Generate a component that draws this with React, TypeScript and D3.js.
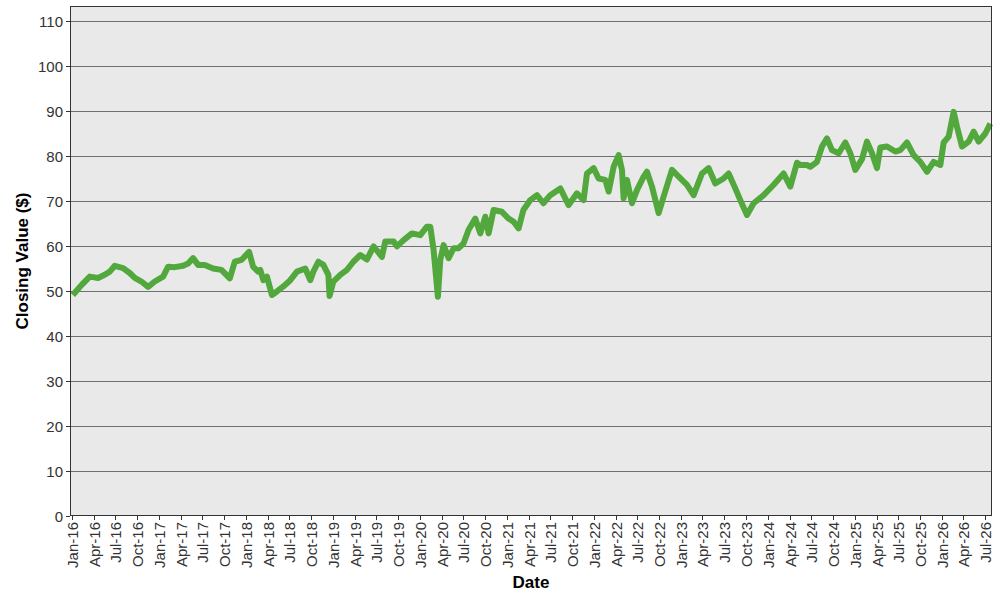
import React from "react";
import * as d3 from "d3";

const dates: string[] = [
  "2016-01-04","2016-02-09","2016-03-15","2016-04-19","2016-05-17","2016-06-07","2016-06-28","2016-08-02","2016-08-30","2016-09-20",
  "2016-10-18","2016-11-15","2016-12-13","2017-01-17","2017-02-07","2017-03-07","2017-04-11","2017-05-02","2017-05-23","2017-06-13",
  "2017-07-11","2017-08-15","2017-09-19","2017-10-24","2017-11-14","2017-12-12","2018-01-13","2018-01-30","2018-02-20","2018-03-01",
  "2018-03-14","2018-03-29","2018-04-19","2018-05-10","2018-06-06","2018-07-05","2018-08-02","2018-09-06","2018-09-27","2018-10-10",
  "2018-10-31","2018-11-21","2018-12-12","2018-12-17","2019-01-02","2019-01-31","2019-02-28","2019-03-27","2019-04-25","2019-05-23",
  "2019-06-20","2019-07-25","2019-08-08","2019-09-12","2019-09-26","2019-10-24","2019-11-28","2020-01-02","2020-01-30","2020-02-13",
  "2020-02-27","2020-03-16","2020-03-26","2020-04-09","2020-04-30","2020-05-21","2020-06-11","2020-07-02","2020-07-23","2020-08-20",
  "2020-09-10","2020-10-01","2020-10-15","2020-11-05","2020-12-10","2021-01-07","2021-01-28","2021-02-18","2021-03-10","2021-04-08",
  "2021-05-06","2021-06-02","2021-07-01","2021-08-12","2021-09-16","2021-10-21","2021-11-18","2021-12-02","2021-12-30","2022-01-20",
  "2022-02-17","2022-03-03","2022-03-24","2022-04-14","2022-04-28","2022-05-05","2022-05-19","2022-06-09","2022-06-30","2022-07-28",
  "2022-08-11","2022-09-01","2022-09-29","2022-10-20","2022-11-24","2022-12-22","2023-01-26","2023-02-23","2023-03-30","2023-04-27",
  "2023-05-25","2023-06-29","2023-07-20","2023-08-17","2023-09-07","2023-10-05","2023-11-02","2023-12-14","2024-01-25","2024-03-07",
  "2024-04-04","2024-05-02","2024-05-16","2024-06-13","2024-06-27","2024-07-25","2024-08-15","2024-09-05","2024-09-26","2024-10-24",
  "2024-11-21","2024-12-12","2025-01-02","2025-01-30","2025-02-20","2025-03-13","2025-04-03","2025-04-17","2025-05-15","2025-06-19",
  "2025-07-10","2025-08-07","2025-09-04","2025-10-02","2025-10-30","2025-11-27","2025-12-25","2026-01-08","2026-01-29","2026-02-19",
  "2026-03-05","2026-03-26","2026-04-23","2026-05-14","2026-06-04","2026-07-02","2026-07-23"
];

const closes: number[] = [
  49.1,51.3,53.2,52.9,53.6,54.3,55.6,55.1,54.0,52.9,
  52.1,50.9,52.1,53.2,55.4,55.3,55.6,56.1,57.3,55.8,
  55.8,55.0,54.7,52.8,56.5,56.9,58.7,55.4,54.3,54.7,
  52.4,53.2,49.1,49.9,51.0,52.4,54.3,55.0,52.4,54.3,
  56.5,55.8,53.6,48.9,52.1,53.6,54.7,56.5,58.0,57.0,
  59.9,57.6,61.0,61.0,59.9,61.3,62.8,62.4,64.3,64.3,
  59.1,48.7,56.9,60.2,57.3,59.5,59.5,60.6,63.6,66.1,
  62.8,66.5,62.8,68.0,67.6,66.1,65.4,63.9,68.0,70.2,
  71.3,69.5,71.3,72.8,69.1,71.7,70.2,76.1,77.3,75.0,
  74.7,72.1,77.6,80.2,76.9,70.6,74.7,69.5,72.4,75.4,
  76.5,73.2,67.3,71.0,76.9,75.4,73.6,71.3,76.1,77.3,
  73.9,75.0,76.1,72.8,70.2,66.9,69.5,71.3,73.6,76.1,
  73.2,78.5,78.0,78.0,77.6,78.7,82.1,83.9,81.3,80.6,
  83.0,80.6,76.9,79.3,83.2,80.6,77.3,81.9,82.1,81.0,
  81.3,83.0,80.2,78.7,76.5,78.7,78.0,83.0,84.3,89.8,
  86.5,82.1,83.2,85.4,83.2,85.0,87.2
];

const yTicks: number[] = [0,10,20,30,40,50,60,70,80,90,100,110];
const monthNames: string[] = ["Jan","Feb","Mar","Apr","May","Jun","Jul","Aug","Sep","Oct","Nov","Dec"];
const xTickStart = "2016-01-01";
const xTickEnd = "2026-07-01";

const parse = d3.timeParse("%Y-%m-%d");

export default function App() {
  const W = 1000, H = 600;
  const left = 70, right = 992, top = 6, bottom = 516;

  const data = dates.map((d, i) => ({ date: parse(d) as Date, value: closes[i] }));

  const x = d3.scaleTime()
    .domain([parse("2015-12-23") as Date, parse("2026-07-30") as Date])
    .range([left, right]);
  const y = d3.scaleLinear().domain([0, 113.33]).range([bottom, top]);

  const xTicks = d3.timeMonth.every(3)!.range(parse(xTickStart) as Date, d3.timeDay.offset(parse(xTickEnd) as Date, 1));
  const fmt = (d: Date) => `${monthNames[d.getMonth()]}-${String(d.getFullYear() % 100).padStart(2, "0")}`;

  const line = d3.line<{ date: Date; value: number }>()
    .x(d => x(d.date))
    .y(d => y(d.value));

  const font = "Arial, 'Liberation Sans', sans-serif";

  return (
    <svg width={W} height={H} style={{ position: "absolute", left: 0, top: 0, background: "#fff" }} fontFamily={font}>
      <rect x={left} y={top} width={right - left} height={bottom - top} fill="#e9e9e9" />
      {yTicks.filter(t => t > 0).map(t => (
        <line key={"g" + t} x1={left} x2={right} y1={Math.round(y(t)) + 0.5} y2={Math.round(y(t)) + 0.5} stroke="#707070" strokeWidth={1} />
      ))}
      <path d={line(data) || ""} fill="none" stroke="#52a83c" strokeWidth={6} strokeLinejoin="round" strokeLinecap="butt" />
      <rect x={left + 0.5} y={top + 0.5} width={right - left - 1} height={bottom - top - 1} fill="none" stroke="#333" strokeWidth={1} />
      {yTicks.map(t => (
        <g key={"y" + t} transform={`translate(0,${Math.round(y(t)) + 0.5})`}>
          <line x1={left - 4} x2={left} stroke="#333" />
          <text x={left - 7} dy="0.36em" textAnchor="end" fontSize={15} fill="#333">{t}</text>
        </g>
      ))}
      {xTicks.map(t => (
        <g key={"x" + t.getTime()} transform={`translate(${Math.round(x(t)) + 0.5},0)`}>
          <line y1={bottom} y2={bottom + 4} stroke="#333" />
          <text transform={`translate(0,${bottom + 6}) rotate(-90)`} dy="0.35em" textAnchor="end" fontSize={15} fill="#333">{fmt(t)}</text>
        </g>
      ))}
      <text x={(left + right) / 2} y={588} textAnchor="middle" fontSize={17} fontWeight="bold" fill="#000">Date</text>
      <text transform={`translate(28,${(top + bottom) / 2}) rotate(-90)`} textAnchor="middle" fontSize={17} fontWeight="bold" fill="#000">Closing Value ($)</text>
    </svg>
  );
}
